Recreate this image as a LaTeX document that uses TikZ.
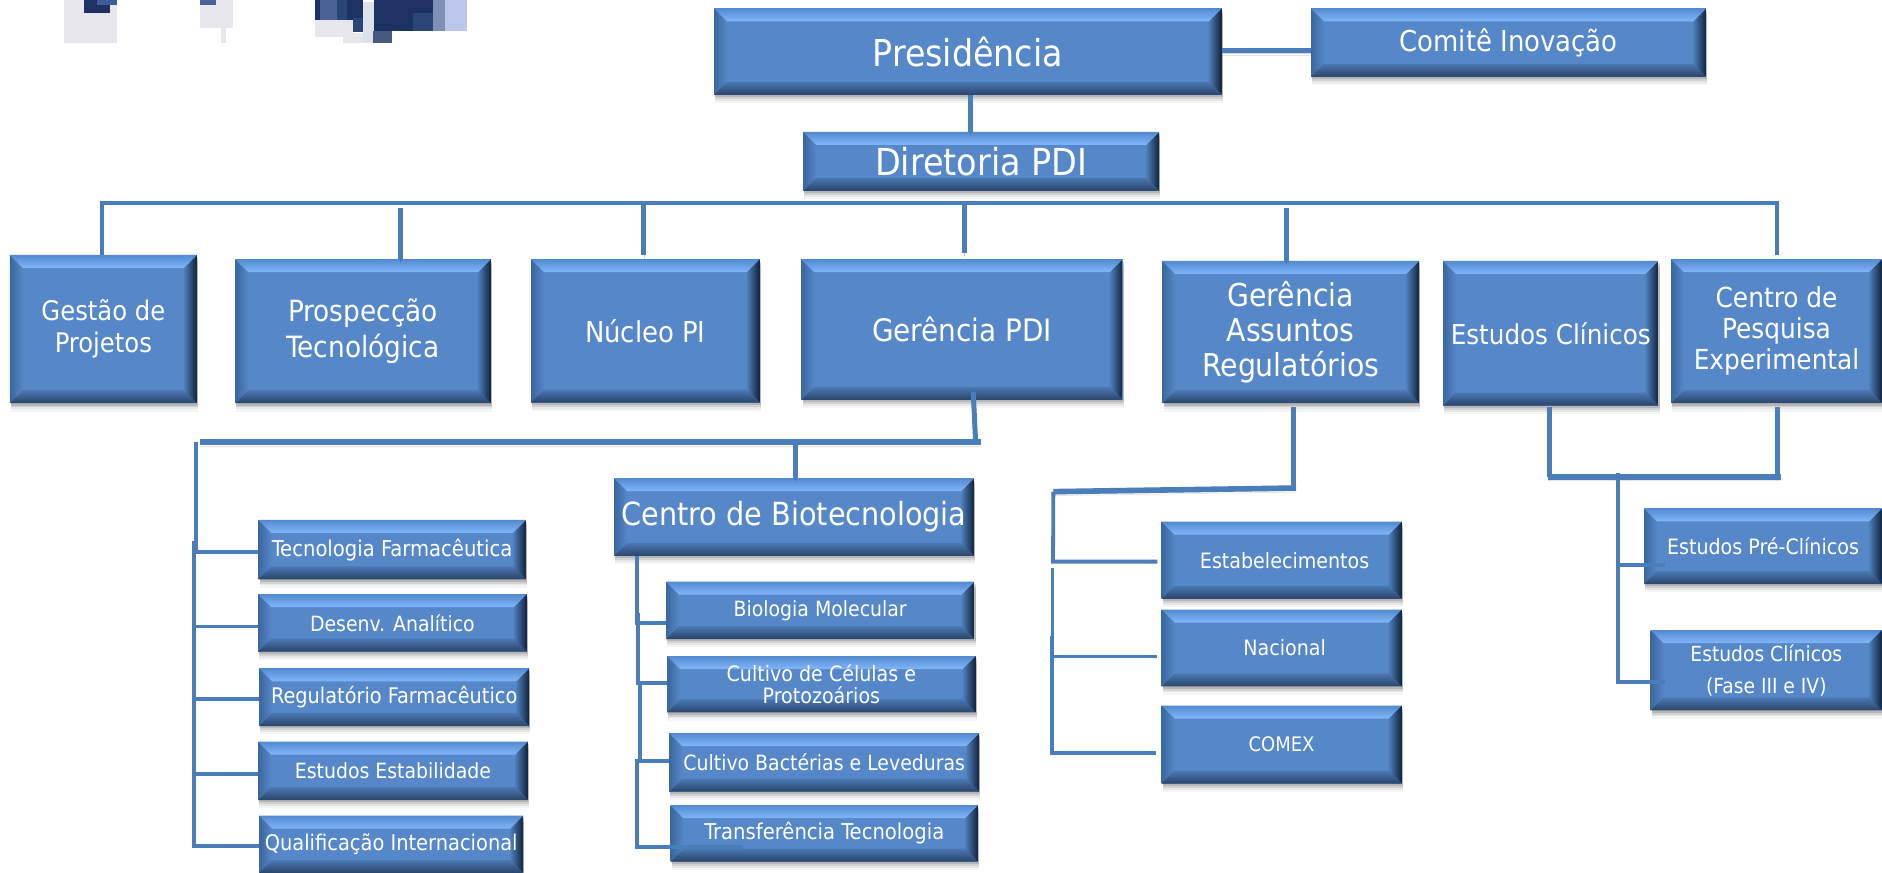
\documentclass[tikz,border=0pt]{standalone}
\usepackage{fontspec}
\setmainfont{DejaVu Sans Condensed}
\definecolor{face}{HTML}{5687C9}
\definecolor{topin}{HTML}{82B6FA}
\definecolor{topout}{HTML}{528AD0}
\definecolor{botin}{HTML}{4A78B4}
\definecolor{botout}{HTML}{2A4468}
\definecolor{rightin}{HTML}{4F7FBC}
\definecolor{rightout}{HTML}{11223C}
\definecolor{leftout}{HTML}{3B679F}
\definecolor{linkblue}{HTML}{4A7EBB}
\definecolor{lgA}{HTML}{1D3263}
\definecolor{lgB}{HTML}{3E5C9A}
\definecolor{lgC}{HTML}{4A6296}
\definecolor{lgD}{HTML}{2C4577}
\definecolor{lgE}{HTML}{7F8FB8}
\definecolor{lgF}{HTML}{BAC7E8}
\definecolor{lgG}{HTML}{E6E6EC}
\definecolor{lgH}{HTML}{DDE1EA}
\definecolor{lgI}{HTML}{46597F}
\tikzset{
  x=0.6pt,y=-0.6pt,
  bevelbox/.style={rectangle,inner sep=0pt,align=center,text=white,fill=face,
    path picture={
      \coordinate (nw) at (path picture bounding box.north west);
      \coordinate (se) at (path picture bounding box.south east);
      \coordinate (ne) at (path picture bounding box.north east);
      \coordinate (sw) at (path picture bounding box.south west);
      \coordinate (inw) at ([xshift=6.5pt,yshift=-6.5pt]nw);
      \coordinate (ine) at ([xshift=-6.5pt,yshift=-6.5pt]ne);
      \coordinate (ise) at ([xshift=-6.5pt,yshift=6.5pt]se);
      \coordinate (isw) at ([xshift=6.5pt,yshift=6.5pt]sw);
      \shade[left color=leftout,right color=face] (nw)--(inw)--(isw)--(sw)--cycle;
      \shade[left color=rightin,right color=rightout] (ne)--(ine)--(ise)--(se)--cycle;
      \shade[top color=topout,bottom color=topin] (nw)--(ne)--(ine)--(inw)--cycle;
      \shade[top color=botin,bottom color=botout] (sw)--(se)--(ise)--(isw)--cycle;
    }},
  softline/.style={preaction={draw=black,opacity=.10,transform canvas={yshift=-2pt}},
    preaction={draw=black,opacity=.14,transform canvas={yshift=-1.2pt}}},
  thinlink/.style={draw=linkblue,line width=1.9pt,line cap=butt,line join=miter},
  midlink/.style={draw=linkblue,line width=2.5pt,line cap=butt,softline},
  thicklink/.style={draw=linkblue,line width=2.8pt,line cap=butt,softline},
  fz/.style 2 args={font=\fontsize{#1}{#2}\selectfont},
}
% shadowed box: name, x1,y1,x2,y2, style, text
\newcommand{\bbx}[7]{%
  \foreach \sh/\op in {7/.04,5/.06,3.5/.09,2/.13}{\fill[black,opacity=\op] (#2+1,#3+\sh) rectangle (#4+1,#5+\sh);}
  \node[bevelbox,#6,minimum width={(#4-#2)*0.6pt},minimum height={(#5-#3)*0.6pt}] (#1) at ({(#2+#4)/2},{(#3+#5)/2}) {#7};}
\begin{document}
\begin{tikzpicture}
\useasboundingbox (0,0) rectangle (1568.33,727.5);
% logo fragment
\begin{scope}[x=0.5pt,y=-0.5pt]
  \fill[lgG] (64,0) rectangle (117,43);
  \fill[lgA] (84,0) rectangle (110,13);
  \fill[lgB] (97,0) rectangle (117,5);
  \fill[lgG] (200,0) rectangle (233,28);
  \fill[lgC] (200,0) rectangle (216,5);
  \fill[lgG] (221,28) rectangle (226,43);
  \fill[lgA] (315,0) rectangle (363,21);
  \fill[lgC] (320,0) rectangle (337,21);
  \fill[lgD] (337,0) rectangle (347,21);
  \fill[lgG] (315,20) rectangle (353,37);
  \fill[lgG] (343,33) rectangle (373,43);
  \fill[lgD] (353,18) rectangle (363,32);
  \fill[lgH] (363,2) rectangle (374,43);
  \fill[lgA] (374,0) rectangle (433,31);
  \fill[lgD] (413,13) rectangle (433,31);
  \fill[lgE] (433,0) rectangle (445,31);
  \fill[lgF] (445,0) rectangle (467,31);
  \fill[lgI] (373,31) rectangle (392,43);
\end{scope}
% boxes
\bbx{pres}{595}{7}{1018}{79}{fz={18.5}{22}}{Presidência}
\bbx{comite}{1092.5}{7}{1421.8}{64}{fz={14.4}{17}}{Comitê Inovação}
\bbx{dirp}{669.4}{110}{966}{159}{fz={18.6}{22}}{Diretoria PDI}
\bbx{gest}{8.3}{212.5}{164}{336}{fz={13.5}{16}}{Gestão de\\Projetos}
\bbx{prosp}{196}{216}{409}{336}{fz={14.65}{18}}{Prospecção\\Tecnológica}
\bbx{nucleo}{442.6}{216}{633}{335.5}{fz={14.4}{17}}{Núcleo PI}
\bbx{gerp}{667.8}{216}{935.6}{333.3}{fz={15.5}{18}}{Gerência PDI}
\bbx{gera}{968.6}{217.5}{1182.6}{336}{fz={15.75}{17.5}}{Gerência\\Assuntos\\Regulatórios}
\bbx{estc}{1202.6}{217.5}{1382}{338}{fz={13.7}{16}}{Estudos Clínicos}
\bbx{cpe}{1392.6}{216}{1568.3}{336}{fz={13.8}{15.5}}{Centro de\\Pesquisa\\Experimental}
\bbx{biot}{511.8}{398.5}{811.7}{463.3}{fz={15.95}{19}}{Centro de Biotecnologia}
\bbx{tecf}{215.3}{433.3}{438.3}{482.8}{fz={10.9}{12}}{Tecnologia Farmacêutica}
\bbx{desa}{215}{495}{439}{543}{fz={10.5}{12}}{Desenv. Analítico}
\bbx{regf}{216}{557}{441}{605}{fz={10.75}{12}}{Regulatório Farmacêutico}
\bbx{este}{215}{618}{440}{666.7}{fz={10.5}{12}}{Estudos Estabilidade}
\bbx{qual}{216}{679.7}{436}{727.5}{fz={10.8}{12}}{Qualificação Internacional}
\bbx{biom}{555}{484.7}{812}{532.5}{fz={10.5}{12}}{Biologia Molecular}
\bbx{cult}{556}{546.7}{813}{593.6}{fz={10.6}{11}}{Cultivo de Células e\\Protozoários}
\bbx{bact}{557.7}{611}{816}{659.7}{fz={10.5}{12}}{Cultivo Bactérias e Leveduras}
\bbx{trans}{558.9}{671}{815}{718}{fz={10.9}{12}}{Transferência Tecnologia}
\bbx{estab}{968}{434.7}{1168}{499}{fz={10.6}{12}}{\hspace*{3pt}Estabelecimentos}
\bbx{naci}{968}{508}{1168}{572}{fz={10.6}{12}}{\hspace*{3pt}Nacional}
\bbx{come}{968}{588}{1168}{653}{fz={10}{12}}{COMEX}
\bbx{pre}{1370}{423.6}{1568.3}{486.7}{fz={10.6}{12}}{Estudos Pré-Clínicos}
\bbx{fase}{1375.6}{525}{1568.3}{592}{fz={10.4}{16}}{Estudos Clínicos\\(Fase III e IV)}
% top level connectors
\coordinate (p1) at (809,79);
\draw[midlink] (p1) -- (p1 |- dirp.north);
\coordinate (p2) at (1018,42.5);
\draw[midlink] (p2) -- (p2 -| comite.west);
\coordinate (busl) at (85,169);
\coordinate (busr) at (1480.5,169);
\coordinate (busre) at (1480.5,212.5);
\draw[thinlink] (busl |- gest.north) -- (busl) -- (busr) -- (busre);
\coordinate (d2) at (334,173);
\draw[midlink] (d2) -- (d2 |- prosp.north);
\coordinate (d3) at (536.6,169);
\coordinate (d3e) at (536.6,212.5);
\draw[midlink] (d3) -- (d3e);
\coordinate (d4) at (804,169);
\coordinate (d4e) at (804,211);
\draw[midlink] (d4) -- (d4e);
\coordinate (d5) at (1072,173);
\draw[midlink] (d5) -- (d5 |- gera.north);
% Gerencia PDI group
\coordinate (g1) at (811,326.4);
\coordinate (g2) at (813,368);
\draw[midlink] (g1) -- (g2);
\coordinate (gl) at (167,368.3);
\coordinate (gr) at (817.7,368.3);
\draw[thicklink] (gl) -- (gr);
\coordinate (g3) at (662.6,368.3);
\draw[midlink] (g3) -- (g3 |- biot.north);
% left trunk
\coordinate (t0) at (163.5,368);
\coordinate (t1) at (163.5,460);
\coordinate (t2) at (161.8,451);
\coordinate (t3) at (161.8,705);
\draw[thinlink] (t0) -- (t1) -- (t1 -| tecf.west);
\draw[thinlink] (t2) -- (t3) -- (t3 -| qual.west);
\foreach \n/\y in {desa/522,regf/582.5,este/645}{\draw[thinlink] (161.8,\y) -- (\n.west |- 161.8,\y);}
% biotech trunk
\coordinate (b0) at (530.6,463.3);
\coordinate (b1) at (530.6,519);
\draw[thinlink] (b0) -- (b1) -- (b1 -| biom.west);
\coordinate (b2) at (531.8,511);
\coordinate (b3) at (531.8,569.4);
\draw[thinlink] (b2) -- (b3) -- (b3 -| cult.west);
\coordinate (b4) at (533,569.4);
\coordinate (b5) at (533,634);
\draw[thinlink] (b4) -- (b5) -- (b5 -| bact.west);
\coordinate (b6) at (530.6,634);
\coordinate (b7) at (530.6,705.5);
\coordinate (b8) at (619.4,705.5);
\draw[thinlink] (b5) -- (b6) -- (b7) -- (b8);
% regulatory
\coordinate (r0) at (1078,339);
\coordinate (r1) at (1078,406.7);
\coordinate (r1e) at (1080,406.7);
\coordinate (r2) at (877.8,409.7);
\draw[midlink] (r0) -- (r1);
\draw[thicklink] (r1e) -- (r2);
\coordinate (r3) at (877.5,468);
\coordinate (r3e) at (964.5,468);
\draw[thinlink] (r2) -- (r3) -- (r3e);
\coordinate (r4) at (877,473.6);
\coordinate (r5) at (877,547);
\coordinate (r5e) at (964,547);
\draw[thinlink] (r4) -- (r5) -- (r5e);
\coordinate (r6s) at (876.5,530);
\coordinate (r6) at (876.5,627.7);
\coordinate (r6e) at (963,627.7);
\draw[thinlink] (r6s) -- (r6) -- (r6e);
% clinical
\coordinate (c0) at (1291,339);
\coordinate (c1) at (1291,397.3);
\coordinate (c2) at (1481,339);
\coordinate (c3) at (1481,397.3);
\draw[midlink] (c0) -- (c1);
\draw[midlink] (c2) -- (c3);
\coordinate (cl) at (1289.7,397.3);
\coordinate (cr) at (1484,397.3);
\draw[thicklink] (cl) -- (cr);
\coordinate (c4) at (1348.4,394.5);
\coordinate (c5) at (1348.4,568);
\coordinate (c5e) at (1387.7,568);
\coordinate (c6) at (1348.4,471);
\coordinate (c6e) at (1387.7,471);
\draw[thinlink] (c4) -- (c5) -- (c5e);
\draw[thinlink] (c6) -- (c6e);
\end{tikzpicture}
\end{document}
